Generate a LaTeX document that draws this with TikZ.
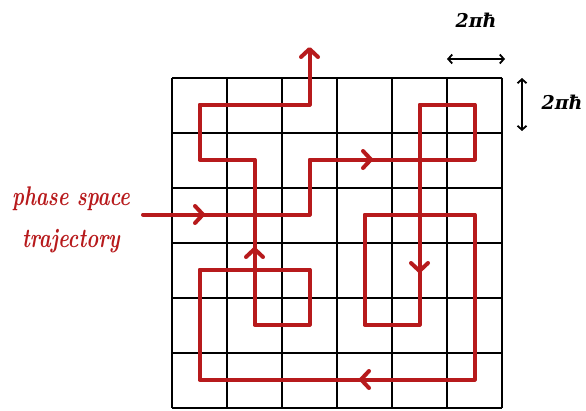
\documentclass[tikz,border=0pt]{standalone}
\usepackage{fontspec}
\newfontfamily\dimfont{DejaVu Serif}
\usetikzlibrary{arrows.meta}
\definecolor{trajred}{RGB}{183,26,28}
\begin{document}
\begin{tikzpicture}[x=1pt,y=-1pt,
  gridline/.style={black,line width=2pt},
  traj/.style={trajred,line width=4pt,line join=round,line cap=round},
  tiparrow/.style={-{Straight Barb[length=8pt,width=17pt,line cap=round,line join=round]}},
  measure/.style={black,line width=1.8pt,{Straight Barb[length=4pt,width=9pt]}-{Straight Barb[length=4pt,width=9pt]}},
  hand/.style={trajred,font=\fontsize{27}{42}\selectfont\itshape\bfseries,align=center},
  dimlabel/.style={black,font=\fontsize{19}{20}\selectfont\dimfont\bfseries\itshape,inner sep=0pt}]
\useasboundingbox (0,0) rectangle (586,410);
% grid
\foreach \i in {0,...,6} {
  \draw[gridline] (172+55*\i,77.5) -- (172+55*\i,407.5);
  \draw[gridline] (172,77.5+55*\i) -- (502,77.5+55*\i);
}
% label
\node[hand] (label) at (71,220) {\scalebox{0.75}[1]{phase space}\\\scalebox{0.75}[1]{trajectory}};
\coordinate (start) at (143,214.5);
% trajectory
\draw[traj,tiparrow] (start) -- (309.5,214.5) -- (309.5,159.5) -- (474.5,159.5) -- (474.5,104.5)
  -- (419.5,104.5) -- (419.5,324.5) -- (364.5,324.5) -- (364.5,214.5) -- (474.5,214.5)
  -- (474.5,379.5) -- (199.5,379.5) -- (199.5,269.5) -- (309.5,269.5) -- (309.5,324.5)
  -- (254.5,324.5) -- (254.5,159.5) -- (199.5,159.5) -- (199.5,104.5) -- (309.5,104.5)
  -- (309.5,47) coordinate (endtip);
% mid arrows
\draw[traj,tiparrow] (190,214.5) -- (205,214.5);
\draw[traj,tiparrow] (358,159.5) -- (373,159.5);
\draw[traj,tiparrow] (419.5,258) -- (419.5,273);
\draw[traj,tiparrow] (374,379.5) -- (359,379.5);
\draw[traj,tiparrow] (254.5,262) -- (254.5,247);
% dimension marks
\coordinate (ha) at (447,59);
\coordinate (hb) at (505,59);
\draw[measure] (ha) -- (hb);
\node[dimlabel] (toplabel) at (476,20) {2πħ};
\coordinate (va) at (522,78);
\coordinate (vb) at (522,131);
\draw[measure] (va) -- (vb);
\node[dimlabel] (sidelabel) at (562,102) {2πħ};
\end{tikzpicture}
\end{document}
